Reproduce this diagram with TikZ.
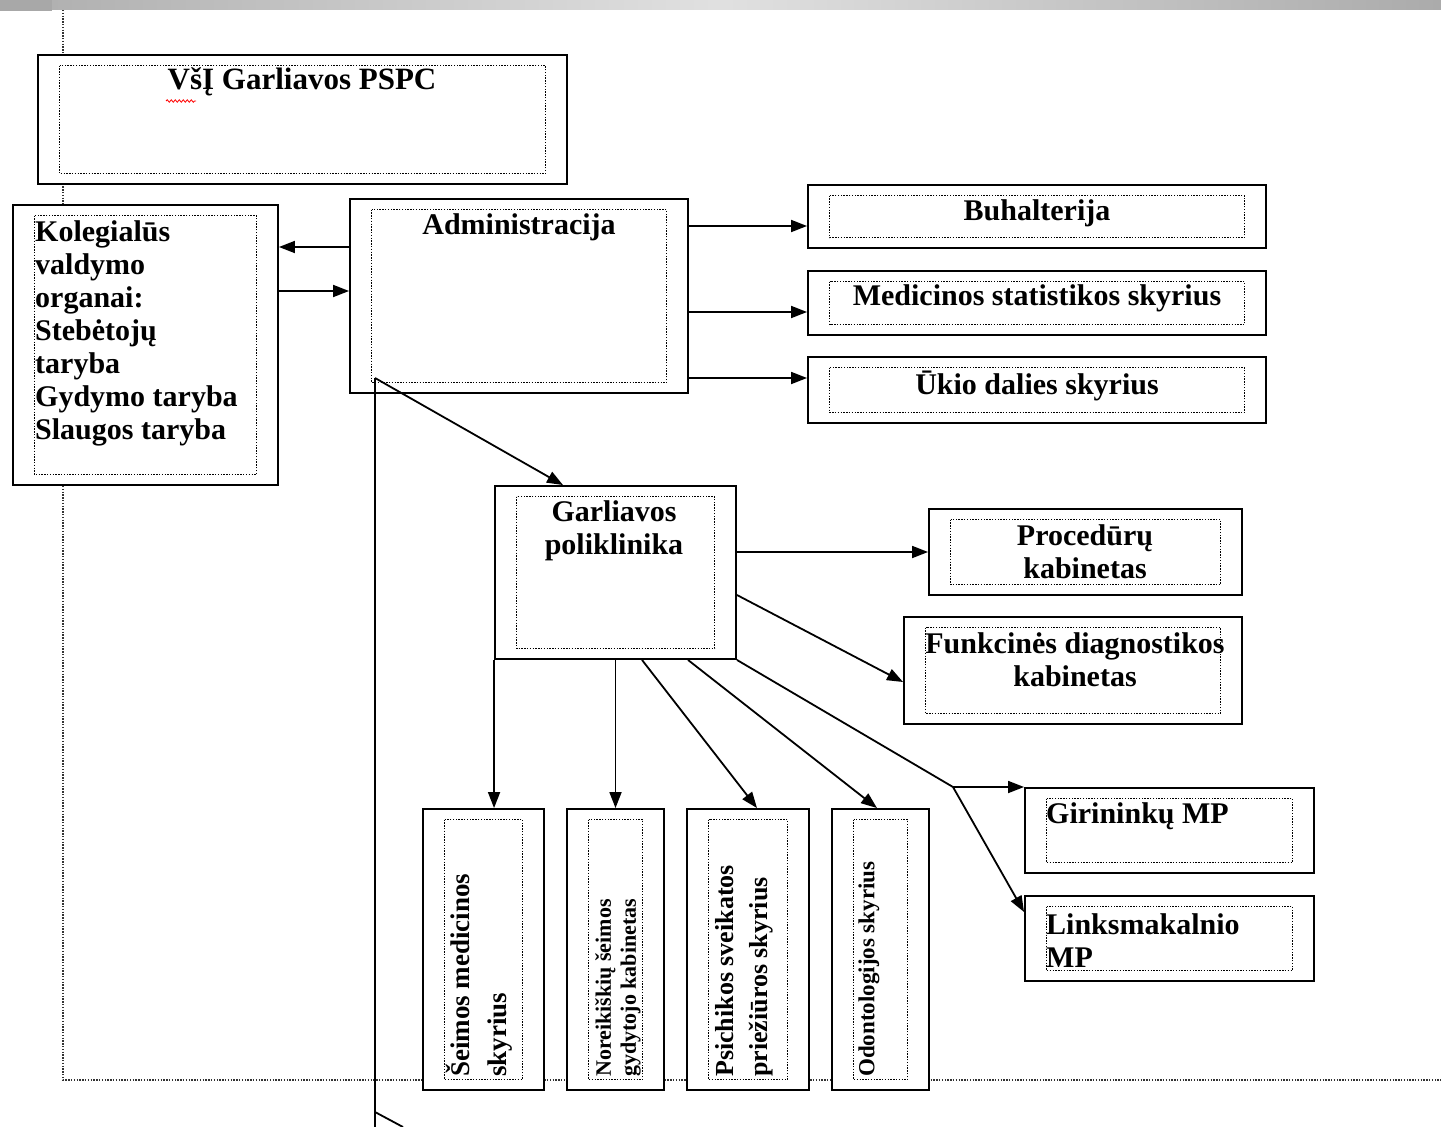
\documentclass[tikz,border=0pt]{standalone}
\usepackage{fontspec}
\setmainfont{Liberation Serif}
\usetikzlibrary{arrows.meta,positioning,decorations.pathmorphing}

\begin{document}
\begin{tikzpicture}[x=1pt,y=-1pt,
	unit/.style={draw, fill=white, line width=1.9pt, inner sep=0pt,
		path picture={\draw[line width=1.5pt, dash pattern=on 1.4pt off 1.4pt]
			([shift={(21.5pt,-10.5pt)}]path picture bounding box.north west) rectangle
			([shift={(-21.5pt,10.5pt)}]path picture bounding box.south east);}},
	lbl/.style={font=\bfseries\fontsize{30}{33}\selectfont, inner sep=0pt, align=center},
	arr/.style={line width=1.8pt, -{Triangle[length=16pt,width=12pt]}},
	conn/.style={line width=1.8pt},
	frame/.style={line width=1.5pt, dash pattern=on 1.4pt off 1.4pt, black!80}]
	\useasboundingbox (0,0) rectangle (1441,1127);
	% top bar
	\shade[left color=gray!64, right color=gray!66, middle color=gray!24] (0,0) rectangle (1441,9);
	\fill[gray!68] (0,0) rectangle (52,11);
	\draw[frame] (63,10) -- (63,1080) -- (1441,1080);

	% boxes
	\node[unit, minimum width=529pt, minimum height=129pt] (pspc) at (302.5,119.5) {};
	\node[unit, minimum width=265pt, minimum height=280pt] (kol) at (145.5,345) {};
	\node[unit, minimum width=338pt, minimum height=194pt] (adm) at (519,296) {};
	\node[unit, minimum width=458pt, minimum height=63pt] (buh) at (1037,216.5) {};
	\node[unit, minimum width=458pt, minimum height=64pt] (stat) at (1037,303) {};
	\node[unit, minimum width=458pt, minimum height=66pt] (ukio) at (1037,390) {};
	\node[unit, minimum width=241pt, minimum height=173pt] (pol) at (615.5,572.5) {};
	\node[unit, minimum width=313pt, minimum height=86pt] (proc) at (1085.5,552) {};
	\node[unit, minimum width=338pt, minimum height=107pt] (funk) at (1073,670.5) {};
	\node[unit, minimum width=289pt, minimum height=85pt] (gir) at (1169.5,830.5) {};
	\node[unit, minimum width=289pt, minimum height=85pt] (link) at (1169.5,938.5) {};
	\node[unit, minimum width=121pt, minimum height=281pt] (seim) at (483.5,949.5) {};
	\node[unit, minimum width=97pt, minimum height=281pt] (nor) at (615.5,949.5) {};
	\node[unit, minimum width=122pt, minimum height=281pt] (psi) at (748,949.5) {};
	\node[unit, minimum width=97pt, minimum height=281pt] (odo) at (880.5,949.5) {};

	% texts
	\node[lbl, font=\bfseries\fontsize{31}{33}\selectfont] (pspc-t) at (302,82) {VšĮ Garliavos PSPC};
	\draw[red, line width=0.8pt, decorate, decoration={snake, amplitude=1.2pt, segment length=4pt}] (166,101) -- (196,101);
	\node[lbl, align=left, anchor=west] (kol-t) at (35,333) {Kolegialūs\\valdymo\\organai:\\Stebėtojų\\taryba\\Gydymo taryba\\Slaugos taryba};
	\node[lbl] (adm-t) at (519,227) {Administracija};
	\node[lbl] (buh-t) at (1037,213) {Buhalterija};
	\node[lbl] (stat-t) at (1037,298) {Medicinos statistikos skyrius};
	\node[lbl] (ukio-t) at (1037,386) {Ūkio dalies skyrius};
	\node[lbl] (pol-t) at (614,531) {Garliavos\\poliklinika};
	\node[lbl] (proc-t) at (1085,552) {Procedūrų\\kabinetas};
	\node[lbl] (funk-t) at (1075,660) {Funkcinės diagnostikos\\kabinetas};
	\node[lbl, anchor=west] (gir-t) at (1046,816) {Girininkų MP};
	\node[lbl, anchor=west, align=left] (link-t) at (1046,941) {Linksmakalnio\\MP};
	\node[lbl, rotate=90, anchor=west, align=left, font=\bfseries\fontsize{27}{37}\selectfont] (seim-t) at (479,1077) {Šeimos medicinos\\skyrius};
	\node[lbl, rotate=90, anchor=west, align=left, font=\bfseries\fontsize{22}{25}\selectfont] (nor-t) at (618,1077) {Noreikiškių šeimos\\gydytojo kabinetas};
	\node[lbl, rotate=90, anchor=west, align=left, font=\bfseries\fontsize{26}{34}\selectfont] (psi-t) at (744,1077) {Psichikos sveikatos\\priežiūros skyrius};
	\node[lbl, rotate=90, anchor=west, font=\bfseries\fontsize{23}{25}\selectfont] (odo-t) at (869,1077) {Odontologijos skyrius};

	% connectors
	\coordinate (knee) at (375,378);
	\coordinate (vbot) at (375,1127);
	\coordinate (tail) at (375,1112);
	\coordinate (tailend) at (403,1127);
	\coordinate (split) at (953,787);
	\draw[arr] (adm.west |- 0,247) -- (kol.east |- 0,247);
	\draw[arr] (kol.east |- 0,291) -- (adm.west |- 0,291);
	\foreach \y/\n in {226/buh, 312/stat, 378/ukio}
		\draw[arr] (adm.east |- 0,\y) -- (\n.west |- 0,\y);
	\draw[arr] (knee) -- (pol.north -| 563,0);
	\draw[conn] (knee) -- (vbot);
	\draw[conn] (tail) -- (tailend);
	\draw[arr] (pol.east |- proc) -- (proc.west);
	\draw[arr] (pol.east |- 0,595) -- (funk.west |- 0,682);
	\draw[conn] (pol.south east) -- (split);
	\draw[arr] (split) -- (gir.west |- split);
	\draw[arr] (split) -- (link.west |- 0,912);
	\draw[arr] (pol.south west) -- (pol.south west |- seim.north);
	\draw[arr] (pol.south) -- (nor.north);
	\draw[arr] (pol.south -| 642,0) -- (psi.north -| 757,0);
	\draw[arr] (pol.south -| 688,0) -- (odo.north -| 877,0);
\end{tikzpicture}
\end{document}
